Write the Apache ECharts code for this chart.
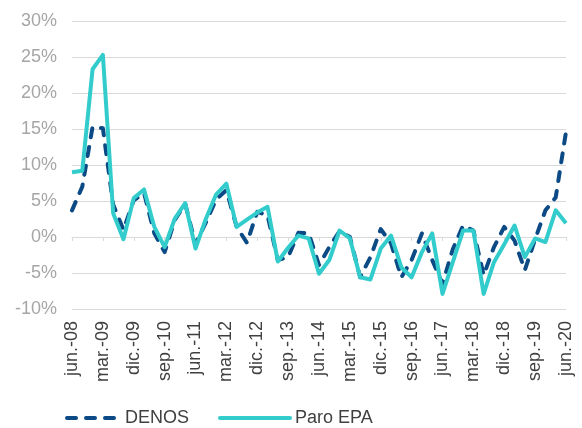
<!DOCTYPE html>
<html>
<head>
<meta charset="utf-8">
<script src="https://cdn.jsdelivr.net/npm/echarts@6/dist/echarts.min.js"></script>
<style>
html,body{margin:0;padding:0;background:#fff;}
#c{width:582px;height:428px;}
</style>
</head>
<body>
<div id="c"></div>
<script>
const categories = [
  'jun.-08','sep.-08','dic.-08',
  'mar.-09','jun.-09','sep.-09','dic.-09',
  'mar.-10','jun.-10','sep.-10','dic.-10',
  'mar.-11','jun.-11','sep.-11','dic.-11',
  'mar.-12','jun.-12','sep.-12','dic.-12',
  'mar.-13','jun.-13','sep.-13','dic.-13',
  'mar.-14','jun.-14','sep.-14','dic.-14',
  'mar.-15','jun.-15','sep.-15','dic.-15',
  'mar.-16','jun.-16','sep.-16','dic.-16',
  'mar.-17','jun.-17','sep.-17','dic.-17',
  'mar.-18','jun.-18','sep.-18','dic.-18',
  'mar.-19','jun.-19','sep.-19','dic.-19',
  'mar.-20','jun.-20'
];
const denos = [
  3.7, 7.0, 15.3,
  15.1, 4.5, 1.0, 5.1,
  6.1, 0.5, -2.1, 2.4,
  4.6, -1.0, 2.0, 5.2,
  6.5, 1.4, -0.8, 3.5,
  3.0, -3.2, -2.8, 0.6,
  0.5, -3.9, -1.4, 0.8,
  0.0, -5.6, -2.8, 1.1,
  -0.9, -5.6, -3.2, 0.5,
  -3.2, -6.5, -1.7, 1.6,
  0.9, -5.3, -1.4, 1.4,
  -0.5, -4.6, -0.3, 3.7,
  5.5, 14.6
];
const paroEPA = [
  9.0, 9.2, 23.3,
  25.3, 3.3, -0.3, 5.4,
  6.6, 1.4, -1.4, 2.6,
  4.7, -1.6, 2.5, 5.9,
  7.4, 1.4, 2.4, 3.4,
  4.2, -3.4, -1.5, 0.2,
  -0.2, -5.1, -3.2, 0.9,
  -0.2, -5.6, -5.9, -1.6,
  0.2, -4.2, -5.6, -2.1,
  0.5, -7.9, -3.5, 0.9,
  0.9, -7.9, -3.5, -1.0,
  1.6, -2.8, -0.2, -0.7,
  3.7, 1.9
];
const yMin = -10, yMax = 30, yStep = 5;

const FONT = '"Liberation Sans", Arial, sans-serif';
const chart = echarts.init(document.getElementById('c'), null, {renderer: 'canvas'});
chart.setOption({
  animation: false,
  backgroundColor: '#ffffff',
  textStyle: {fontFamily: FONT},
  grid: {left: 72, right: 16, top: 21, bottom: 119, containLabel: false},
  legend: [
    {
      data: ['DENOS'], left: 60, top: 404, itemWidth: 53, itemHeight: 14, itemGap: 0,
      itemStyle: {opacity: 0},
      lineStyle: {width: 4, type: [9, 10], cap: 'round'},
      textStyle: {fontFamily: FONT, fontSize: 18, color: '#404040', padding: [0,0,0,0]}
    },
    {
      data: ['Paro EPA'], left: 213, top: 404, itemWidth: 70, itemHeight: 14, itemGap: 0,
      itemStyle: {opacity: 0},
      lineStyle: {width: 4, cap: 'round'},
      textStyle: {fontFamily: FONT, fontSize: 18, color: '#404040', padding: [0,0,0,0]}
    }
  ],
  xAxis: [
    {
      type: 'category', data: categories, boundaryGap: false, position: 'bottom',
      axisLine: {show: false, onZero: false},
      axisTick: {show: false},
      axisLabel: {interval: 2, rotate: 90, margin: 12, fontFamily: FONT, fontSize: 18, color: '#404040'},
      splitLine: {show: false}
    },
    {
      type: 'category', data: categories, boundaryGap: false, position: 'bottom',
      axisLine: {show: true, onZero: true, lineStyle: {color: '#d9d9d9', width: 1}},
      axisTick: {show: true, interval: 2, length: 4, lineStyle: {color: '#d9d9d9'}},
      axisLabel: {show: false},
      splitLine: {show: false}
    }
  ],
  yAxis: {
    type: 'value', min: yMin, max: yMax, interval: yStep,
    axisLine: {show: false}, axisTick: {show: false},
    axisLabel: {formatter: '{value}%', margin: 15, fontFamily: FONT, fontSize: 18, color: '#a6a6a6'},
    splitLine: {lineStyle: {color: '#d9d9d9', width: 1}}
  },
  series: [
    {
      name: 'DENOS', type: 'line', data: denos, xAxisIndex: 0,
      symbol: 'none', showSymbol: false, smooth: false,
      lineStyle: {color: '#0B4A85', width: 4, type: [9, 10], cap: 'round', join: 'round'},
      itemStyle: {color: '#0B4A85'},
      z: 3
    },
    {
      name: 'Paro EPA', type: 'line', data: paroEPA, xAxisIndex: 0,
      symbol: 'none', showSymbol: false, smooth: false,
      lineStyle: {color: '#33CCCC', width: 4, join: 'round'},
      itemStyle: {color: '#33CCCC'},
      z: 4
    }
  ]
});
</script>
</body>
</html>
